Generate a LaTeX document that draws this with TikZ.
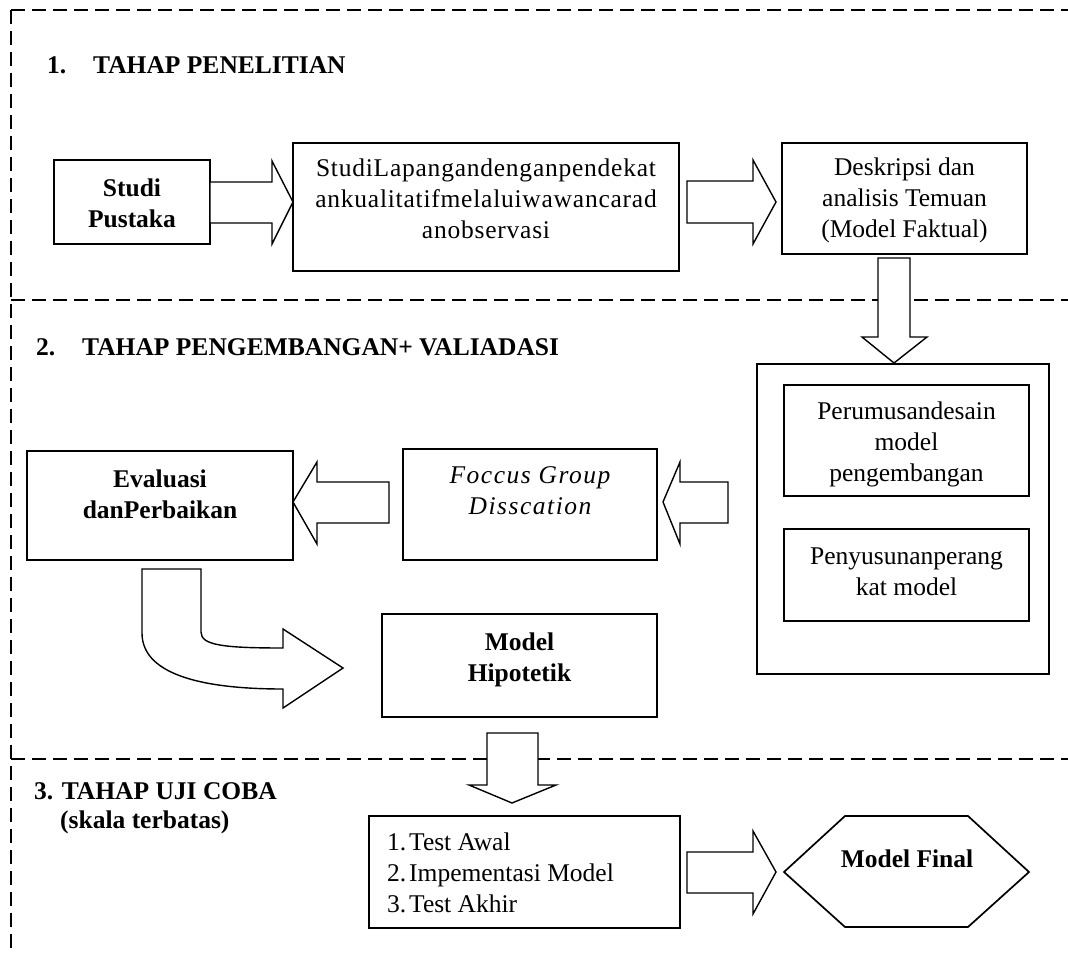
\documentclass[tikz,border=0pt]{standalone}
\usepackage{fontspec}
\setmainfont{Liberation Serif}
\newcommand\mysz{\fontsize{25.5}{30.8}\selectfont}
\begin{document}
\begin{tikzpicture}[x=1pt,y=-1pt,
  box/.style={draw, line width=1.7pt, inner sep=0pt},
  blk/.style={draw, line width=1.4pt, line join=miter, fill=white},
  sep/.style={draw, dash pattern=on 14pt off 7pt, line width=1.3pt},
  txt/.style={inner sep=0pt, align=center, font=\mysz, anchor=base},
  hd/.style={inner sep=0pt, anchor=base west, font=\mysz\bfseries}]
\useasboundingbox (0,0) rectangle (1068,955);

% section separators
\draw[sep] (11,10) -- (1068,10);
\draw[sep] (11,10) -- (11,955);
\draw[sep] (11,300) -- (1068,300);
\draw[sep] (11,759) -- (1068,759);

% headings
\node[hd] (h1) at (47,74) {\makebox[46pt][l]{1.}TAHAP PENELITIAN};
\node[hd] (h2) at (36,355) {\makebox[46pt][l]{2.}TAHAP PENGEMBANGAN+ VALIADASI};
\node[hd] (h3) at (34,799) {3. TAHAP UJI COBA};
\node[hd] (h3b) at (60,828) {(skala terbatas)};

% boxes
\node[box, minimum width=156pt, minimum height=84pt] (sp) at (132,202) {};
\node[txt, font=\mysz\bfseries] (spt) at (132,227) {Studi\\Pustaka};

\node[box, minimum width=386pt, minimum height=128pt] (sl) at (486,207) {};
\node[txt, font=\mysz\addfontfeatures{LetterSpace=3}] (slt) at (486,238) {StudiLapangandenganpendekat\\ankualitatifmelaluiwawancarad\\anobservasi};

\node[box, minimum width=245pt, minimum height=111pt] (dk) at (904.5,198.5) {};
\node[txt] (dkt) at (904.5,237) {Deskripsi dan\\analisis Temuan\\(Model Faktual)};

\node[box, minimum width=292pt, minimum height=310pt] (big) at (903,519) {};
\node[box, minimum width=245pt, minimum height=111pt] (pr) at (906.5,440.5) {};
\node[txt] (prt) at (906.5,481) {Perumusandesain\\model\\pengembangan};
\node[box, minimum width=245pt, minimum height=92pt] (py) at (906.5,575) {};
\node[txt] (pyt) at (906.5,595) {Penyusunanperang\\kat model};

\node[box, minimum width=266pt, minimum height=109pt] (ev) at (160,505.5) {};
\node[txt, font=\mysz\bfseries] (evt) at (160,518) {Evaluasi\\danPerbaikan};

\node[box, minimum width=254pt, minimum height=111pt] (fg) at (530,504.5) {};
\node[txt, font=\mysz\itshape\addfontfeatures{LetterSpace=6}] (fgt) at (530,514) {Foccus Group\\Disscation};

\node[box, minimum width=275pt, minimum height=103pt] (mh) at (519.5,665.5) {};
\node[txt, font=\mysz\bfseries] (mht) at (519.5,681) {Model\\Hipotetik};

\node[box, minimum width=311pt, minimum height=112pt] (tb) at (524.5,872) {};
\node[txt, anchor=base west, align=left] (tbt) at (387,912)
  {\makebox[22pt][l]{1.}Test Awal\\\makebox[22pt][l]{2.}Impementasi Model\\\makebox[22pt][l]{3.}Test Akhir};

\draw[box] (784,872) -- (845,816) -- (968,816) -- (1029,872) -- (968,927) -- (845,927) -- cycle;
\node[txt, font=\mysz\bfseries] (mf) at (907,867) {Model Final};

% block arrows
\draw[blk] (210,182) -- (272,182) -- (272,161) -- (293,202) -- (272,244) -- (272,223) -- (210,223) -- cycle;
\draw[blk] (687,181) -- (753,181) -- (753,160) -- (776,202) -- (753,244) -- (753,223) -- (687,223) -- cycle;
\draw[blk] (878,258) -- (910,258) -- (910,337) -- (927,337) -- (894,363) -- (862,337) -- (878,337) -- cycle;
\draw[blk] (389,482) -- (317,482) -- (317,462) -- (293,502) -- (317,544) -- (317,523) -- (389,523) -- cycle;
\draw[blk] (728,482) -- (680,482) -- (680,462) -- (663,502) -- (680,544) -- (680,523) -- (728,523) -- cycle;
\draw[blk] (487,733) -- (538,733) -- (538,785) -- (556,785) -- (512,803) -- (469,785) -- (487,785) -- cycle;
\draw[blk] (687,852) -- (753,852) -- (753,831) -- (776,872) -- (753,914) -- (753,893) -- (687,893) -- cycle;
\draw[blk] (142,569) -- (201,569) -- (201,632) .. controls (201,645) and (222,648) .. (283,648)
  -- (283,629) -- (343,668) -- (283,708) -- (283,689) .. controls (195,689) and (142,672) .. (142,633) -- cycle;
\end{tikzpicture}
\end{document}
